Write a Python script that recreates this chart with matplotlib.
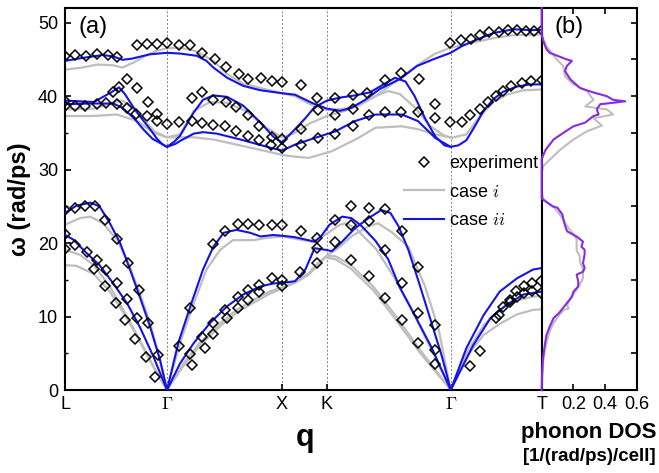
import matplotlib
matplotlib.use('Agg')
import matplotlib.pyplot as plt
from matplotlib.lines import Line2D
from matplotlib.ticker import MultipleLocator

plt.rcParams['font.family'] = ['Liberation Sans', 'DejaVu Sans']
plt.rcParams['mathtext.fontset'] = 'cm'

# high-symmetry points along the path (Gamma-X = 1)
hs_pos = [0.0, 0.887, 1.887, 2.278, 3.354, 4.145]
hs_lab = ['L', r'$\Gamma$', 'X', 'K', r'$\Gamma$', 'T']

# case ii (blue) branches, (q, omega)
blue_1 = [(0.00, 44.8), (0.15, 45.2), (0.33, 45.6), (0.42, 45.4), (0.50, 44.95), (0.58, 45.1), (0.74, 45.7), (0.887, 45.9),
          (1.00, 45.8), (1.145, 45.5), (1.23, 44.8), (1.29, 43.9), (1.41, 42.5), (1.55, 41.4), (1.70, 40.8), (1.887, 40.4),
          (2.00, 40.2), (2.145, 39.1), (2.278, 38.3), (2.39, 38.0), (2.49, 38.4), (2.61, 39.5), (2.74, 41.0), (2.91, 42.3),
          (3.06, 44.1), (3.20, 45.0), (3.354, 45.9),
          (3.45, 46.8), (3.55, 47.5), (3.725, 48.6), (3.90, 49.1), (4.04, 49.0), (4.145, 49.0)]
blue_2 = [(0.00, 39.4), (0.25, 39.2), (0.40, 40.5), (0.47, 41.2), (0.52, 40.3), (0.59, 38.6), (0.65, 37.3), (0.74, 35.5),
          (0.80, 34.2), (0.85, 33.4), (0.887, 33.1),
          (0.95, 33.8), (1.00, 34.6), (1.06, 36.2), (1.12, 37.8), (1.20, 39.5), (1.29, 40.1), (1.41, 39.9), (1.55, 38.7),
          (1.70, 36.4), (1.81, 34.5), (1.887, 33.7),
          (2.00, 35.5), (2.09, 37.0), (2.17, 38.5), (2.278, 39.4), (2.39, 39.8), (2.52, 40.1), (2.65, 40.5), (2.77, 41.6),
          (2.87, 42.5), (2.96, 42.0), (3.04, 40.0), (3.13, 37.0), (3.22, 34.5), (3.30, 33.3), (3.354, 33.1),
          (3.42, 33.3), (3.49, 34.0), (3.56, 35.8), (3.64, 38.0), (3.725, 39.6), (3.81, 40.6), (3.93, 41.3), (4.04, 41.6),
          (4.145, 41.6)]
blue_3 = [(0.00, 38.9), (0.20, 39.0), (0.42, 39.0), (0.50, 38.4), (0.60, 37.0), (0.68, 35.5), (0.76, 34.2), (0.887, 33.1),
          (0.96, 33.5), (1.00, 33.9), (1.12, 34.9), (1.20, 35.1), (1.32, 34.9), (1.55, 34.0), (1.78, 33.0), (1.887, 32.6),
          (2.00, 33.4), (2.17, 34.3), (2.35, 35.2), (2.52, 36.6), (2.70, 37.5), (2.93, 37.5), (3.07, 36.6), (3.22, 34.3),
          (3.354, 33.1)]
blue_4 = [(0.00, 24.1), (0.10, 25.1), (0.22, 25.5), (0.30, 25.0), (0.39, 22.7), (0.48, 20.0), (0.565, 16.4), (0.65, 12.7),
          (0.74, 8.6), (0.826, 4.1), (0.887, 0.0),
          (0.985, 6.4), (1.09, 11.4), (1.20, 16.4), (1.29, 19.5), (1.38, 21.4), (1.49, 21.8), (1.61, 21.4), (1.70, 20.9),
          (1.81, 21.1), (1.887, 21.0),
          (2.00, 20.8), (2.17, 20.2), (2.23, 21.0), (2.30, 22.5), (2.41, 23.6), (2.49, 23.4), (2.58, 22.3), (2.70, 20.3),
          (2.81, 17.8), (2.91, 14.0), (3.04, 10.2), (3.19, 5.7), (3.354, 0.0),
          (3.49, 5.7), (3.64, 10.2), (3.78, 13.4), (3.93, 15.2), (4.07, 16.4), (4.145, 16.6)]
blue_5 = [(0.00, 21.1), (0.07, 20.5), (0.19, 18.6), (0.30, 17.0), (0.42, 14.5), (0.54, 11.8), (0.65, 8.6), (0.77, 4.5),
          (0.887, 0.0),
          (1.00, 3.6), (1.12, 6.4), (1.26, 9.1), (1.41, 11.4), (1.55, 13.0), (1.70, 14.1), (1.81, 14.5), (1.887, 14.6),
          (2.00, 14.8), (2.09, 16.4), (2.17, 19.3), (2.26, 19.1), (2.32, 18.9), (2.41, 20.2), (2.52, 22.0), (2.64, 23.4),
          (2.75, 24.5), (2.83, 24.1), (2.90, 22.3), (2.985, 19.1), (3.07, 15.0), (3.17, 10.0), (3.275, 4.7), (3.354, 0.0),
          (3.55, 6.1), (3.70, 9.8), (3.84, 11.6), (3.985, 13.0), (4.145, 13.4)]

# case i (gray) branches
gray_1 = [(0.00, 43.6), (0.15, 43.9), (0.28, 44.3), (0.42, 44.2), (0.50, 43.9), (0.60, 44.6), (0.70, 45.5), (0.80, 46.2),
          (0.887, 46.5),
          (1.00, 46.6), (1.145, 46.1), (1.29, 44.8), (1.41, 43.0), (1.55, 41.7), (1.78, 40.8), (1.887, 40.4),
          (2.00, 40.0), (2.13, 38.9), (2.278, 38.1), (2.435, 38.3), (2.565, 39.0), (2.70, 40.0), (2.83, 41.5), (2.96, 43.0),
          (3.09, 44.5), (3.22, 45.8), (3.354, 46.6),
          (3.55, 47.3), (3.725, 47.9), (3.90, 48.3), (4.145, 48.4)]
gray_2 = [(0.00, 38.2), (0.25, 38.3), (0.43, 39.2), (0.50, 39.4), (0.59, 38.3), (0.68, 36.8), (0.78, 35.2), (0.887, 34.4),
          (1.00, 34.8), (1.12, 38.0), (1.26, 39.2), (1.41, 39.1), (1.58, 37.9), (1.75, 35.7), (1.887, 34.4),
          (2.00, 35.0), (2.13, 36.3), (2.278, 37.3), (2.435, 38.0), (2.565, 38.8), (2.70, 40.0), (2.81, 40.7), (2.91, 40.3),
          (3.04, 38.5), (3.17, 36.0), (3.28, 34.8), (3.354, 34.3),
          (3.49, 34.8), (3.61, 37.3), (3.725, 39.2), (3.84, 40.2), (3.985, 40.8), (4.145, 40.9)]
gray_3 = [(0.00, 37.3), (0.25, 37.3), (0.45, 37.5), (0.63, 36.6), (0.77, 35.0), (0.887, 34.4),
          (1.12, 34.4), (1.29, 34.1), (1.55, 33.2), (1.78, 32.4), (1.887, 32.0),
          (1.98, 31.8), (2.12, 31.6), (2.32, 32.5), (2.55, 34.3), (2.70, 35.7), (2.93, 35.9), (3.07, 35.5), (3.22, 34.8),
          (3.354, 34.4)]
gray_4 = [(0.00, 22.5), (0.13, 23.4), (0.22, 23.6), (0.33, 22.7), (0.45, 20.5), (0.54, 17.7), (0.65, 13.2), (0.74, 9.1),
          (0.826, 4.1), (0.887, 0.0),
          (1.00, 6.4), (1.12, 11.8), (1.23, 16.4), (1.35, 19.1), (1.46, 20.4), (1.64, 20.4), (1.75, 20.7), (1.887, 20.9),
          (2.00, 20.6), (2.17, 20.1), (2.278, 21.3), (2.39, 22.5), (2.45, 22.7), (2.54, 21.8), (2.71, 19.1), (2.855, 15.5),
          (3.00, 11.4), (3.145, 6.8), (3.354, 0.0),
          (3.49, 5.0), (3.64, 8.8), (3.78, 11.0), (3.93, 12.2), (4.07, 12.7), (4.145, 12.8)]
gray_5 = [(0.00, 19.1), (0.13, 18.4), (0.25, 17.0), (0.39, 14.1), (0.54, 10.0), (0.65, 6.8), (0.77, 3.2), (0.887, 0.0),
          (1.03, 3.6), (1.17, 6.4), (1.35, 9.1), (1.49, 10.9), (1.64, 12.3), (1.78, 13.4), (1.887, 14.0),
          (2.00, 14.8), (2.12, 15.9), (2.20, 17.3), (2.278, 18.3), (2.39, 19.5), (2.49, 20.9), (2.64, 22.3), (2.72, 22.7),
          (2.84, 21.5), (2.985, 19.5), (3.13, 14.1), (3.25, 8.2), (3.354, 0.0),
          (3.49, 4.5), (3.64, 7.5), (3.78, 9.0), (3.93, 10.3), (4.07, 10.9), (4.145, 11.0)]
gray_6 = [(0.00, 17.0), (0.10, 16.9), (0.25, 15.8), (0.39, 13.4), (0.54, 9.7), (0.65, 6.6), (0.77, 3.1), (0.887, 0.0),
          (1.03, 3.3), (1.17, 6.0), (1.35, 8.7), (1.49, 10.5), (1.64, 11.9), (1.78, 13.1), (1.887, 13.8),
          (2.00, 14.6), (2.12, 15.7), (2.20, 17.0), (2.278, 18.3), (2.35, 18.2), (2.48, 17.1), (2.68, 14.1), (2.88, 10.0),
          (3.09, 5.4), (3.354, 0.0)]
gray_7 = [(2.278, 18.0), (2.35, 17.8), (2.48, 16.6), (2.68, 13.6), (2.88, 9.5), (3.09, 5.0), (3.354, 0.0)]

# experiment (q, omega)
exp_pts = [
    (0.00, 45.5), (0.09, 45.6), (0.18, 45.4), (0.28, 45.7), (0.37, 45.6), (0.45, 45.3),
    (0.63, 47.0), (0.71, 47.1), (0.80, 47.1), (0.89, 47.3), (0.99, 47.0), (1.09, 47.0), (1.19, 45.9), (1.30, 45.0),
    (1.40, 44.0), (1.51, 43.0), (1.59, 42.3), (1.70, 42.5), (1.80, 42.0), (1.89, 41.9), (2.05, 41.5),
    (2.19, 39.8), (2.35, 39.7), (2.50, 40.2), (2.63, 40.4), (2.78, 42.2), (2.92, 43.1), (3.08, 42.3), (3.22, 38.9),
    (3.22, 37.0), (3.35, 36.5),
    (2.20, 38.1), (2.35, 37.4), (2.50, 38.2), (2.64, 37.5), (2.78, 37.9), (2.92, 37.9), (3.07, 37.8),
    (2.05, 35.5), (2.05, 33.4), (2.20, 34.3), (2.35, 34.9), (2.50, 35.9),
    (3.35, 47.3), (3.44, 47.6), (3.53, 47.8), (3.61, 48.3), (3.69, 48.7), (3.77, 48.8), (3.85, 49.0), (3.93, 49.0),
    (4.01, 48.9), (4.08, 48.9), (4.15, 49.0),
    (3.45, 36.5), (3.52, 37.4), (3.61, 38.2), (3.68, 39.2), (3.75, 40.0), (3.81, 40.7), (3.88, 41.4), (3.97, 41.8),
    (4.05, 42.1), (4.15, 42.2),
    (0.00, 39.3), (0.00, 38.6), (0.09, 38.7), (0.17, 38.6), (0.28, 38.9), (0.36, 39.1), (0.42, 40.5), (0.47, 41.2),
    (0.54, 42.4), (0.63, 41.1), (0.72, 39.2), (0.80, 37.6), (0.89, 36.2),
    (0.45, 38.9), (0.54, 38.4), (0.62, 37.6), (0.71, 37.3), (0.80, 36.6),
    (0.99, 36.5), (1.10, 39.8), (1.19, 40.5), (1.29, 39.5), (1.40, 39.2), (1.49, 38.5), (1.59, 37.4), (1.69, 36.0),
    (1.80, 34.5), (1.89, 34.2),
    (1.10, 36.6), (1.19, 36.3), (1.29, 36.1), (1.39, 36.0), (1.49, 35.3), (1.59, 34.6), (1.69, 34.0), (1.79, 33.4),
    (1.89, 33.0),
    (0.00, 24.5), (0.09, 24.8), (0.17, 25.0), (0.26, 25.1), (0.35, 23.2), (0.45, 20.5), (0.55, 17.3), (0.64, 13.6),
    (0.72, 9.1), (0.81, 4.7),
    (0.00, 21.3), (0.09, 19.8), (0.19, 18.8), (0.28, 17.7), (0.36, 16.3), (0.45, 14.5), (0.54, 12.4), (0.63, 9.8),
    (0.00, 19.2), (0.25, 16.5), (0.35, 14.1), (0.44, 11.9), (0.52, 9.5), (0.61, 7.0), (0.70, 4.5), (0.78, 1.8),
    (0.99, 6.0), (1.09, 11.1), (1.29, 19.9), (1.39, 21.7), (1.50, 22.6), (1.59, 22.6), (1.69, 22.5), (1.80, 22.5),
    (1.89, 22.4),
    (1.09, 4.9), (1.10, 3.4), (1.19, 7.2), (1.22, 5.7), (1.29, 9.1), (1.29, 7.6), (1.39, 10.9), (1.41, 9.8),
    (1.50, 12.7), (1.50, 11.1), (1.59, 13.6), (1.59, 12.3), (1.69, 14.3), (1.69, 13.3), (1.80, 15.2), (1.89, 15.0),
    (1.89, 14.1),
    (2.05, 21.6), (2.19, 20.7), (2.35, 20.2), (2.49, 25.0), (2.64, 24.8), (2.78, 24.6), (2.93, 21.6), (3.07, 16.8),
    (3.22, 8.9),
    (2.04, 16.1), (2.19, 19.3), (2.19, 17.3), (2.35, 23.2), (2.49, 22.5), (2.64, 23.0), (2.78, 19.1), (2.93, 14.5),
    (3.07, 10.5), (3.22, 5.5),
    (2.49, 17.7), (2.64, 15.5), (2.78, 12.5), (2.93, 9.5), (3.07, 6.4), (3.22, 3.6),
    (3.52, 3.2), (3.61, 5.3), (3.75, 9.8), (3.81, 11.3), (3.87, 12.3), (3.92, 13.5), (3.99, 14.2), (4.06, 14.6),
    (4.14, 14.8), (4.14, 13.2), (4.06, 13.5), (3.99, 13.2), (3.93, 12.6), (3.87, 12.0), (3.77, 10.2)]

# phonon DOS, (omega, dos)
dos_ii = [(0, 0), (2.0, 0.002), (4.3, 0.008), (5.9, 0.018), (7.5, 0.03), (8.6, 0.05), (9.8, 0.075), (10.5, 0.11),
          (11.6, 0.15), (12.7, 0.19), (13.4, 0.20), (14.1, 0.23), (14.8, 0.23), (15.7, 0.22), (16.1, 0.26), (16.6, 0.27),
          (17.3, 0.26), (18.4, 0.27), (19.1, 0.27), (19.5, 0.25), (20.2, 0.26), (20.9, 0.22), (21.6, 0.16), (22.5, 0.145),
          (23.9, 0.13), (24.8, 0.10), (25.0, 0.07), (25.9, 0.01), (26.1, 0), (31.4, 0), (32.0, 0.01), (32.7, 0.025),
          (34.1, 0.075), (35.0, 0.136), (35.9, 0.2), (36.4, 0.274), (37.3, 0.326), (37.5, 0.358), (38.2, 0.347),
          (38.9, 0.368), (39.1, 0.45), (39.3, 0.526), (39.5, 0.45), (40.0, 0.41), (40.5, 0.326), (41.1, 0.242),
          (42.3, 0.18), (43.4, 0.147), (44.1, 0.158), (44.8, 0.19), (45.0, 0.158), (45.9, 0.05), (46.4, 0.03),
          (47.5, 0.01), (48.4, 0), (52, 0)]
dos_i = [(0, 0), (4.0, 0.01), (6.0, 0.025), (8.0, 0.05), (9.1, 0.075), (10.2, 0.11), (10.9, 0.14), (11.1, 0.17),
         (11.5, 0.16), (12.0, 0.17), (13.0, 0.2), (14.0, 0.23), (15.2, 0.26), (16.5, 0.26), (17.5, 0.24), (18.2, 0.24),
         (19.0, 0.22), (20.5, 0.22), (21.2, 0.20), (22.0, 0.17), (23.0, 0.14), (24.0, 0.11), (24.8, 0.08), (25.4, 0.04),
         (26.0, 0.01), (27.0, 0), (29.5, 0), (30.5, 0.01), (31.4, 0.053), (32.7, 0.116), (34.1, 0.2), (35.2, 0.284),
         (36.0, 0.379), (37.0, 0.326), (37.5, 0.45), (38.2, 0.41), (38.6, 0.274), (39.5, 0.326), (40.7, 0.284),
         (41.6, 0.2), (42.7, 0.147), (44.1, 0.136), (45.0, 0.095), (46.8, 0.03), (48.0, 0.005), (49.0, 0), (52, 0)]

BLUE = '#1414e6'
GRAY = '#bebebe'
PURPLE = '#8a2be2'


def unzip(pts):
    return [p[0] for p in pts], [p[1] for p in pts]


fig = plt.figure(figsize=(6.59, 4.73), dpi=100)
ax = fig.add_axes([65 / 659, 1 - 390 / 473, (541.7 - 65) / 659, 382 / 473])
ax2 = fig.add_axes([541.7 / 659, 1 - 390 / 473, (637 - 541.7) / 659, 382 / 473])

for q in hs_pos[1:-1]:
    ax.axvline(q, color='#808080', lw=0.7, ls=(0, (2, 2)), zorder=0)

for br in [gray_1, gray_2, gray_3, gray_4, gray_5, gray_6, gray_7]:
    ax.plot(*unzip(br), color=GRAY, lw=1.6, zorder=2)
for br in [blue_1, blue_2, blue_3, blue_4, blue_5]:
    ax.plot(*unzip(br), color=BLUE, lw=1.5, zorder=3)
eq, ew = unzip(exp_pts)
ax.plot(eq, ew, ls='none', marker='D', ms=5.5, mfc='none', mec='k', mew=1.1, zorder=4)

ax.set_xlim(hs_pos[0], hs_pos[-1])
ax.set_ylim(0, 52)
ax.set_xticks(hs_pos)
ax.set_xticklabels(hs_lab)
ax.yaxis.set_major_locator(MultipleLocator(10))
ax.yaxis.set_minor_locator(MultipleLocator(5))
ax.tick_params(direction='in', labelsize=13, width=1.2, length=4)
ax.tick_params(axis='y', which='minor', direction='in', length=2.5, width=1)
ax.tick_params(axis='x', pad=4)
ax.tick_params(axis='y', pad=5)
for s in ax.spines.values():
    s.set_linewidth(1.5)

handles = [Line2D([], [], ls='none', marker='D', ms=5.5, mfc='none', mec='k', mew=1.1),
           Line2D([], [], color=GRAY, lw=1.6),
           Line2D([], [], color=BLUE, lw=1.5)]
ax.legend(handles, ['experiment', r'case $i$', r'case $ii$'], loc='upper left',
          bbox_to_anchor=(404 / 659, 1 - 155 / 473), bbox_transform=fig.transFigure,
          frameon=False, fontsize=13, handlelength=2.2, handletextpad=0.3,
          labelspacing=0.65, borderpad=0, borderaxespad=0)

dw, dd = unzip(dos_i)
ax2.plot(dd, dw, color=GRAY, lw=1.5, zorder=2)
dw, dd = unzip(dos_ii)
ax2.plot(dd, dw, color=PURPLE, lw=1.5, zorder=3, clip_on=False)
ax2.set_xlim(0, 0.6)
ax2.set_ylim(0, 52)
ax2.set_xticks([0.2, 0.4, 0.6])
ax2.set_xticklabels(['0.2', '0.4', '0.6'])
ax2.yaxis.set_major_locator(MultipleLocator(10))
ax2.yaxis.set_minor_locator(MultipleLocator(5))
ax2.tick_params(axis='x', direction='in', top=True, bottom=True, labelsize=13, width=1.2, length=4, pad=4)
ax2.tick_params(axis='y', which='both', left=False, right=True, labelleft=False,
                direction='in', length=4, width=1.2)
for s in ax2.spines.values():
    s.set_linewidth(1.5)

fig.text(20 / 659, 1 - 199 / 473, 'ω (rad/ps)', rotation=90, ha='center', va='center',
         fontsize=17, fontweight='bold')
fig.text(305 / 659, 1 - 446 / 473, 'q', fontsize=22, fontweight='bold', ha='center', va='baseline')
fig.text(589 / 659, 1 - 437.5 / 473, 'phonon DOS', fontsize=16, fontweight='bold', ha='center', va='baseline')
fig.text(589 / 659, 1 - 461 / 473, '[1/(rad/ps)/cell]', fontsize=13.5, fontweight='bold', ha='center', va='baseline')
fig.text(78 / 659, 1 - 33 / 473, '(a)', fontsize=17, va='baseline')
fig.text(555 / 659, 1 - 33 / 473, '(b)', fontsize=17, va='baseline')

fig.savefig('out.png', dpi=100)
